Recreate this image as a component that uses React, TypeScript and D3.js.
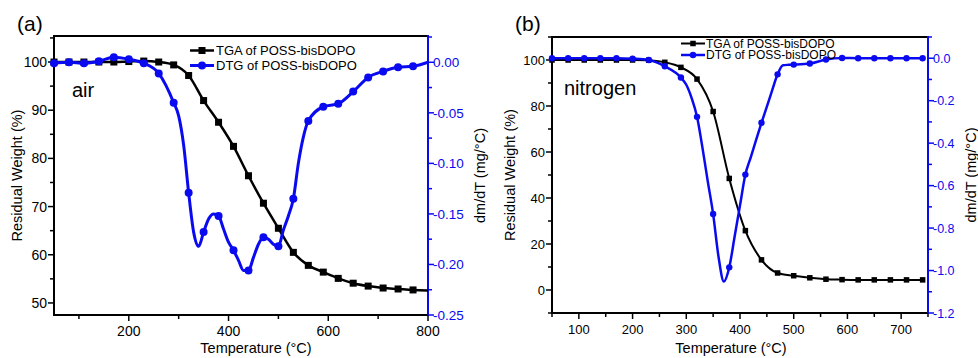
import React from 'react';
import * as d3 from 'd3';

const width = 978;
const height = 358;
const blue = '#0a0af0';
const font = 'Arial, "Liberation Sans", Helvetica, sans-serif';

// (a) air
const airTgaTemp = [50, 80, 110, 140, 170, 200, 230, 260, 290, 320, 350, 380, 410, 440, 470, 500, 530, 560, 590, 620, 650, 680, 710, 740, 770, 800];
const airTgaWeight = [100.0, 100.0, 100.0, 100.0, 100.0, 100.1, 100.2, 100.0, 99.4, 97.2, 92.0, 87.5, 82.5, 76.4, 70.7, 65.5, 60.5, 57.8, 56.4, 55.1, 54.1, 53.5, 53.1, 52.9, 52.7, 52.6];
const airDtgTemp = [50, 80, 110, 140, 170, 200, 230, 260, 290, 300, 310, 320, 330, 340, 350, 360, 370, 380, 390, 400, 410, 420, 430, 440, 450, 460, 470, 480, 490, 500, 510, 520, 530, 540, 550, 560, 590, 620, 650, 680, 710, 740, 770, 800];
const airDtgRate = [-0.001, 0.0, -0.001, 0.001, 0.005, 0.003, -0.001, -0.011, -0.040, -0.053, -0.082, -0.129, -0.168, -0.182, -0.168, -0.155, -0.150, -0.152, -0.165, -0.178, -0.186, -0.196, -0.206, -0.206, -0.193, -0.180, -0.173, -0.175, -0.180, -0.182, -0.166, -0.152, -0.135, -0.100, -0.074, -0.058, -0.044, -0.041, -0.029, -0.015, -0.009, -0.005, -0.004, 0.0];

// (b) nitrogen
const n2TgaTemp = [50, 80, 110, 140, 170, 200, 230, 260, 290, 320, 350, 380, 410, 440, 470, 500, 530, 560, 590, 620, 650, 680, 710, 740];
const n2TgaWeight = [100.0, 100.0, 100.0, 100.0, 100.0, 100.0, 99.9, 99.0, 96.8, 91.7, 77.6, 48.5, 25.8, 13.1, 7.4, 6.2, 5.3, 4.7, 4.5, 4.4, 4.4, 4.4, 4.4, 4.4];
const n2DtgTemp = [50, 80, 110, 140, 170, 200, 230, 260, 290, 300, 310, 320, 330, 340, 350, 360, 370, 380, 390, 400, 410, 420, 430, 440, 450, 460, 470, 480, 490, 500, 530, 560, 590, 620, 650, 680, 710, 740];
const n2DtgRate = [0.0, 0.0, 0.0, 0.0, 0.0, -0.002, -0.008, -0.038, -0.091, -0.125, -0.188, -0.276, -0.420, -0.580, -0.734, -0.935, -1.052, -0.985, -0.840, -0.693, -0.548, -0.467, -0.385, -0.304, -0.228, -0.150, -0.076, -0.033, -0.031, -0.030, -0.025, -0.006, 0.001, 0.0, 0.0, 0.0, 0.0, 0.0];

const airTempTicks = [200, 400, 600, 800];
const airTempMinor = [100, 300, 500, 700];
const airWeightTicks = [50, 60, 70, 80, 90, 100];
const airWeightMinor = [55, 65, 75, 85, 95, 105];
const airRateTicks = [0, -0.05, -0.1, -0.15, -0.2, -0.25];
const airRateMinor = [0.025, -0.025, -0.075, -0.125, -0.175, -0.225];

const n2TempTicks = [100, 200, 300, 400, 500, 600, 700];
const n2TempMinor = [50, 150, 250, 350, 450, 550, 650, 750];
const n2WeightTicks = [0, 20, 40, 60, 80, 100];
const n2WeightMinor = [-10, 10, 30, 50, 70, 90, 110];
const n2RateTicks = [0, -0.2, -0.4, -0.6, -0.8, -1.0, -1.2];
const n2RateMinor = [0.1, -0.1, -0.3, -0.5, -0.7, -0.9, -1.1];

const tgaName = 'TGA of POSS-bisDOPO';
const dtgName = 'DTG of POSS-bisDOPO';

function Panel(p: any) {
  const { box } = p;
  const x = d3.scaleLinear().domain(p.tempDomain).range([box.left, box.right]);
  const yW = d3.scaleLinear().domain(p.weightDomain).range([box.bottom, box.top]);
  const yR = d3.scaleLinear().domain(p.rateDomain).range([box.bottom, box.top]);

  const tga: [number, number][] = p.tgaTemp.map((t: number, i: number) => [t, p.tgaWeight[i]]);
  const dtg: [number, number][] = p.dtgTemp.map((t: number, i: number) => [t, p.dtgRate[i]]);
  const tgaLine = d3.line<[number, number]>().x(d => x(d[0])).y(d => yW(d[1])).curve(d3.curveMonotoneX);
  const dtgLine = d3.line<[number, number]>().x(d => x(d[0])).y(d => yR(d[1])).curve(d3.curveMonotoneX);
  const marked = (d: [number, number]) => (d[0] - 50) % 30 === 0 && d[0] <= p.lastMarker;

  const lg = p.legend;
  const midY = (box.top + box.bottom) / 2;
  const s = p.square;

  return (
    <g fontFamily={font}>
      <text x={p.tagX} y={31} fontSize={21}>{p.tag}</text>

      {/* frame */}
      <line x1={box.left} x2={box.right} y1={box.top} y2={box.top} stroke="#000" strokeWidth={2} />
      <line x1={box.left - 1} x2={box.right} y1={box.bottom} y2={box.bottom} stroke="#000" strokeWidth={2} />
      <line x1={box.left} x2={box.left} y1={box.top - 1} y2={box.bottom} stroke="#000" strokeWidth={2} />
      <line x1={box.right} x2={box.right} y1={box.top - 1} y2={box.bottom + 1} stroke={blue} strokeWidth={2} />

      {/* bottom axis */}
      {p.tempTicks.map((t: number) => (
        <g key={'xt' + t}>
          <line x1={x(t)} x2={x(t)} y1={box.bottom} y2={box.bottom + 6} stroke="#000" strokeWidth={1.5} />
          <text x={x(t)} y={p.xLabelY} fontSize={p.tickFont} textAnchor="middle">{t}</text>
        </g>
      ))}
      {p.tempMinor.map((t: number) => (
        <line key={'xm' + t} x1={x(t)} x2={x(t)} y1={box.bottom} y2={box.bottom + 4} stroke="#000" strokeWidth={1.5} />
      ))}

      {/* left axis */}
      {p.weightTicks.map((v: number) => (
        <g key={'wt' + v}>
          <line x1={box.left - 6} x2={box.left} y1={yW(v)} y2={yW(v)} stroke="#000" strokeWidth={1.5} />
          <text x={box.left - 7} y={yW(v)} dy="0.36em" fontSize={p.tickFont} textAnchor="end">{v}</text>
        </g>
      ))}
      {p.weightMinor.map((v: number) => (
        <line key={'wm' + v} x1={box.left - 4} x2={box.left} y1={yW(v)} y2={yW(v)} stroke="#000" strokeWidth={1.5} />
      ))}

      {/* right axis */}
      {p.rateTicks.map((v: number) => (
        <g key={'rt' + v}>
          <line x1={box.right} x2={box.right + 6} y1={yR(v)} y2={yR(v)} stroke={blue} strokeWidth={1.5} />
          <text x={box.right + 5} y={yR(v)} dy="0.36em" fontSize={p.rateFont} fill={blue}>
            {Math.abs(v) < 1e-9 ? (0).toFixed(p.rateDigits) : v.toFixed(p.rateDigits)}
          </text>
        </g>
      ))}
      {p.rateMinor.map((v: number) => (
        <line key={'rm' + v} x1={box.right} x2={box.right + 4} y1={yR(v)} y2={yR(v)} stroke={blue} strokeWidth={1.5} />
      ))}

      {/* series */}
      <path d={tgaLine(tga) || ''} fill="none" stroke="#000" strokeWidth={p.tgaWidth} />
      {tga.filter(marked).map(d => (
        <rect key={'ts' + d[0]} x={x(d[0]) - s / 2} y={yW(d[1]) - s / 2} width={s} height={s} fill="#000" />
      ))}
      <path d={dtgLine(dtg) || ''} fill="none" stroke={blue} strokeWidth={p.dtgWidth} />
      {dtg.filter(marked).map(d => (
        <circle key={'dc' + d[0]} cx={x(d[0])} cy={yR(d[1])} r={p.dot} fill={blue} />
      ))}

      {/* legend */}
      <line x1={lg.x1} x2={lg.x2} y1={lg.tgaY} y2={lg.tgaY} stroke="#000" strokeWidth={p.tgaWidth} />
      <rect x={lg.mark - s / 2} y={lg.tgaY - s / 2} width={s} height={s} fill="#000" />
      <text x={lg.textX} y={lg.tgaY + lg.gap} fontSize={lg.size}>{tgaName}</text>
      <line x1={lg.x1} x2={lg.x2} y1={lg.dtgY} y2={lg.dtgY} stroke={blue} strokeWidth={p.dtgWidth} />
      <circle cx={lg.mark} cy={lg.dtgY} r={p.dot} fill={blue} />
      <text x={lg.textX} y={lg.dtgY + lg.gap} fontSize={lg.size}>{dtgName}</text>

      <text x={p.gasX} y={p.gasY} fontSize={20}>{p.gas}</text>

      {/* axis titles */}
      <text x={p.xTitleX} y={353} fontSize={14.5} textAnchor="middle">Temperature (°C)</text>
      <text transform={`translate(${p.leftTitleX},${midY}) rotate(-90)`} dy="0.36em" fontSize={14.5} textAnchor="middle">Residual Weight (%)</text>
      <text transform={`translate(${p.rightTitleX},${midY}) rotate(-90)`} dy="0.36em" fontSize={14.5} textAnchor="middle">dm/dT (mg/°C)</text>
    </g>
  );
}

export default function App() {
  return (
    <svg width={width} height={height} style={{ position: 'absolute', left: 0, top: 0, background: '#fff' }}>
      <Panel
        box={{ left: 54, right: 428, top: 36, bottom: 315 }}
        tempDomain={[50, 800]}
        weightDomain={[47.5, 105.4]}
        rateDomain={[-0.25, 0.026]}
        tempTicks={airTempTicks}
        tempMinor={airTempMinor}
        weightTicks={airWeightTicks}
        weightMinor={airWeightMinor}
        rateTicks={airRateTicks}
        rateMinor={airRateMinor}
        rateDigits={2}
        tgaTemp={airTgaTemp}
        tgaWeight={airTgaWeight}
        dtgTemp={airDtgTemp}
        dtgRate={airDtgRate}
        lastMarker={770}
        tickFont={14}
        rateFont={13.5}
        square={7}
        dot={4}
        tgaWidth={2.5}
        dtgWidth={3}
        tag="(a)"
        tagX={17}
        gas="air"
        gasX={72}
        gasY={97}
        legend={{ x1: 190, x2: 214, mark: 202, textX: 216, tgaY: 50.5, dtgY: 65.5, gap: 4, size: 13 }}
        xTitleX={256}
        xLabelY={336}
        leftTitleX={17}
        rightTitleX={480}
      />
      <Panel
        box={{ left: 552, right: 928, top: 37, bottom: 313 }}
        tempDomain={[50, 750]}
        weightDomain={[-10, 110]}
        rateDomain={[-1.2, 0.1]}
        tempTicks={n2TempTicks}
        tempMinor={n2TempMinor}
        weightTicks={n2WeightTicks}
        weightMinor={n2WeightMinor}
        rateTicks={n2RateTicks}
        rateMinor={n2RateMinor}
        rateDigits={1}
        tgaTemp={n2TgaTemp}
        tgaWeight={n2TgaWeight}
        dtgTemp={n2DtgTemp}
        dtgRate={n2DtgRate}
        lastMarker={740}
        tickFont={13}
        rateFont={12.5}
        square={5.5}
        dot={3.2}
        tgaWidth={2}
        dtgWidth={2.5}
        tag="(b)"
        tagX={515}
        gas="nitrogen"
        gasX={564}
        gasY={95}
        legend={{ x1: 681, x2: 705, mark: 693, textX: 706, tgaY: 43.5, dtgY: 55, gap: 4, size: 12 }}
        xTitleX={731}
        xLabelY={333.5}
        leftTitleX={510}
        rightTitleX={971}
      />
    </svg>
  );
}
